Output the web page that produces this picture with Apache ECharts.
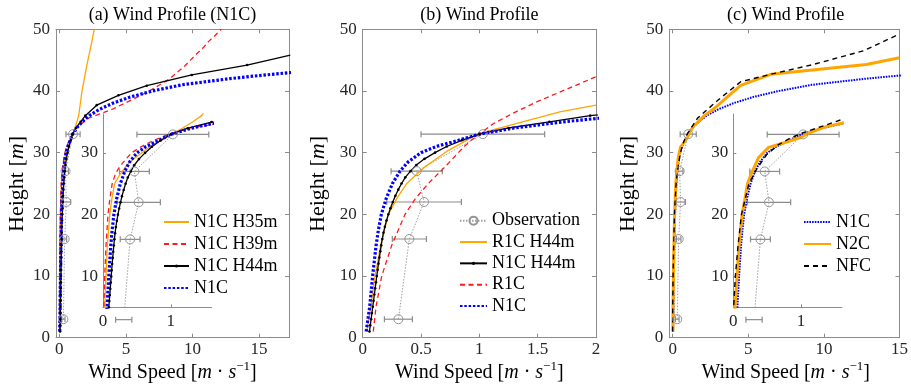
<!DOCTYPE html>
<html><head><meta charset="utf-8">
<script src="https://cdn.jsdelivr.net/npm/echarts@6/dist/echarts.min.js"></script>
<style>html,body{margin:0;padding:0;background:#fff}#c{width:911px;height:388px}</style>
</head><body><div id="c"></div>
<script>
// ---------------- data ----------------
const obsHeight = [3, 16, 22, 27, 33];
const obsSpeed  = [0.306, 0.40, 0.526, 0.463, 1.03];
const obsError  = [0.12, 0.146, 0.32, 0.22, 0.53];

const n1cHeight = [1, 3, 5, 8, 10, 12.5, 15, 17.5, 20, 22.5, 25, 27, 28.5, 30, 31, 32, 33, 34, 35, 36, 37, 38, 39, 40, 41, 42, 42.5, 43];
const n1cSpeed  = [0.03, 0.045, 0.06, 0.075, 0.085, 0.1, 0.115, 0.135, 0.16, 0.2, 0.255, 0.32, 0.39, 0.5, 0.63, 0.82, 1.0, 1.3, 1.72, 2.25, 3.0, 4.0, 5.3, 7.0, 9.2, 12.8, 15.0, 17.4];

const h35Height = [1, 5, 10, 15, 20, 22.5, 25, 26.5, 28, 29, 30, 31, 32, 33, 34, 35, 36, 38, 40, 42, 44, 46, 48, 50];
const h35Speed  = [0.02, 0.025, 0.044, 0.064, 0.1, 0.13, 0.17, 0.25, 0.35, 0.45, 0.57, 0.69, 0.84, 1.0, 1.17, 1.32, 1.45, 1.58, 1.7, 1.88, 2.05, 2.25, 2.44, 2.62];

const h39Height = [1, 5, 10, 15, 20, 22.5, 25, 26.5, 27.5, 28.5, 30, 31, 32, 33, 34, 35, 35.6, 36, 37, 38, 39, 40, 41, 42, 43, 44, 45, 46, 47, 48, 49, 50];
const h39Speed  = [0.01, 0.012, 0.025, 0.044, 0.074, 0.1, 0.135, 0.18, 0.23, 0.3, 0.42, 0.56, 0.74, 0.97, 1.26, 1.85, 2.2, 2.68, 3.94, 4.9, 5.85, 6.75, 7.55, 8.3, 8.85, 9.4, 9.85, 10.3, 10.8, 11.2, 11.7, 12.15];

const h44Height = [1, 2, 3, 4, 5, 6, 7, 8, 9, 10, 11, 12, 13, 14, 15, 16, 17, 18, 19, 20, 21, 22, 23, 24, 25, 26, 27, 28, 29, 30, 31, 32, 33, 34, 35, 36, 37.7, 39.3, 40.85, 42.6, 44.2, 45.8];
const h44Speed  = [0.058, 0.065, 0.072, 0.079, 0.086, 0.093, 0.1, 0.107, 0.114, 0.121, 0.128, 0.135, 0.143, 0.151, 0.159, 0.168, 0.178, 0.19, 0.204, 0.22, 0.238, 0.258, 0.28, 0.305, 0.333, 0.365, 0.41, 0.46, 0.53, 0.62, 0.72, 0.85, 1.0, 1.25, 1.6, 1.95, 2.81, 4.44, 6.57, 9.95, 14.1, 17.35];

const r44Height = [1, 5, 10, 15, 20, 22.5, 25, 27.7, 30.2, 32, 33, 35.2, 36.6, 37.7];
const r44Speed  = [0.034, 0.069, 0.106, 0.154, 0.22, 0.29, 0.377, 0.534, 0.72, 0.89, 0.98, 1.41, 1.69, 2.0];

const r1cHeight = [1, 5, 10, 15, 20, 22.5, 25, 27.7, 30, 31, 32, 33, 34.7, 36.5, 38.3, 40.3, 42.3];
const r1cSpeed  = [0.091, 0.114, 0.163, 0.249, 0.363, 0.45, 0.563, 0.706, 0.82, 0.87, 0.93, 1.0, 1.12, 1.3, 1.5, 1.75, 2.0];

const n2cHeight = [1, 5, 10, 15, 20, 25, 26.5, 29.2, 30.9, 31.6, 32.5, 33.2, 34.3, 34.8, 36, 37.2, 39, 40.9, 42.7, 44.3, 45.4];
const n2cSpeed  = [0.02, 0.025, 0.054, 0.084, 0.13, 0.21, 0.26, 0.37, 0.52, 0.74, 0.99, 1.11, 1.38, 1.6, 2.1, 2.77, 3.6, 4.5, 6.48, 12.8, 15.0];

const nfcHeight = [1, 5, 10, 15, 20, 25, 27.3, 29.7, 31.3, 32.4, 33.2, 34.5, 35.6, 38.5, 41.5, 42.7, 44.3, 46.5, 49.0, 49.2];
const nfcSpeed  = [0.0, 0.005, 0.03, 0.07, 0.12, 0.23, 0.34, 0.49, 0.66, 0.84, 1.01, 1.36, 1.65, 2.99, 4.5, 6.48, 9.3, 12.6, 14.8, 15.0];

const mainYTicks = [0, 10, 20, 30, 40, 50];
const xTicksA = [0, 5, 10, 15];
const xTicksB = [0, 0.5, 1, 1.5, 2];
const xTicksC = [0, 5, 10, 15];
const insetXTicks = [0, 1];
const insetYTicks = [10, 20, 30];

const panelTitles = ['(a) Wind Profile (N1C)', '(b) Wind Profile', '(c) Wind Profile'];
const legendA = ['N1C H35m', 'N1C H39m', 'N1C H44m', 'N1C'];
const legendB = ['R1C H44m', 'N1C H44m', 'R1C', 'N1C'];
const legendC = ['N1C', 'N2C', 'NFC'];

// ---------------- layout / style ----------------
const FONT = "'Liberation Serif','Times New Roman',serif";
const AX = '#8c8c8c';
const TXT = '#262626';
const grids = [
  {left: 56, top: 29.3, width: 233, height: 308.4},
  {left: 362.7, top: 29.3, width: 233.3, height: 308.4},
  {left: 669.3, top: 29.3, width: 232.7, height: 308.4},
  {left: 103, top: 114, width: 108.5, height: 193.3},
  {left: 733.3, top: 114, width: 108.5, height: 193.3}
];
const xAxes = [], yAxes = [];
function addAxes(gi, xmin, xmax, xt, ymin, ymax, yt, inset) {
  const lbl = {fontFamily: FONT, fontSize: 17, color: TXT};
  const base = (pos, min, max, ticks, show, margin) => ({
    type: 'value', gridIndex: gi, min: min, max: max, position: pos,
    axisLine: {show: true, onZero: false, lineStyle: {color: AX, width: 1}},
    axisTick: {show: true, inside: true, length: inset ? 3 : 4, customValues: ticks, lineStyle: {color: AX}},
    axisLabel: Object.assign({show: show, customValues: ticks, margin: margin}, lbl),
    splitLine: {show: false}, silent: true
  });
  xAxes.push(base('bottom', xmin, xmax, xt, true, inset ? 6 : 3));
  yAxes.push(base('left', ymin, ymax, yt, true, inset ? 5 : 6));
  if (!inset) {
    xAxes.push(base('top', xmin, xmax, xt, false, 3));
    yAxes.push(base('right', ymin, ymax, yt, false, 3));
  }
}
addAxes(0, -0.25, 17.25, xTicksA, 0, 50, mainYTicks, false);
addAxes(1, 0, 2, xTicksB, 0, 50, mainYTicks, false);
addAxes(2, -0.22, 15, xTicksC, 0, 50, mainYTicks, false);
addAxes(3, 0, 1.6, insetXTicks, 5, 36.3, insetYTicks, true);
addAxes(4, 0, 1.6, insetXTicks, 5, 36.3, insetYTicks, true);
const AXI = [0, 2, 4, 6, 7];

function pts(h, x) { return h.map((v, i) => [x[i], v]); }
const series = [];
function addLine(name, h, x, gi, ls, extra) {
  series.push(Object.assign({
    type: 'line', name: name, xAxisIndex: AXI[gi], yAxisIndex: AXI[gi],
    data: pts(h, x), symbol: 'none', showSymbol: false, clip: true,
    lineStyle: ls, itemStyle: {color: ls.color}, silent: true, animation: false,
    emphasis: {disabled: true}
  }, extra || {}));
}
function addObs(gi) {
  series.push({
    type: 'line', name: 'Observation', xAxisIndex: AXI[gi], yAxisIndex: AXI[gi],
    data: pts(obsHeight, obsSpeed), symbol: 'circle', symbolSize: 9, showSymbol: true, clip: true,
    itemStyle: {color: 'rgba(0,0,0,0)', borderColor: '#959595', borderWidth: 1},
    lineStyle: {color: '#a0a0a0', width: 1, type: [1.5, 1.5]},
    silent: true, animation: false, emphasis: {disabled: true}
  });
  series.push({
    type: 'custom', name: 'Observation', xAxisIndex: AXI[gi], yAxisIndex: AXI[gi],
    data: obsSpeed.map((v, i) => [v, obsHeight[i], obsError[i]]),
    encode: {x: 0, y: 1}, silent: true, animation: false,
    renderItem: function (params, api) {
      const y = api.value(1), c = api.value(0), e = api.value(2);
      const p1 = api.coord([c - e, y]), p2 = api.coord([c + e, y]);
      const st = {stroke: '#8c8c8c', lineWidth: 1.2};
      const cap = 3;
      return {type: 'group', children: [
        {type: 'line', shape: {x1: p1[0], y1: p1[1], x2: p2[0], y2: p2[1]}, style: st},
        {type: 'line', shape: {x1: p1[0], y1: p1[1] - cap, x2: p1[0], y2: p1[1] + cap}, style: st},
        {type: 'line', shape: {x1: p2[0], y1: p2[1] - cap, x2: p2[0], y2: p2[1] + cap}, style: st}
      ]};
    }
  });
}
const ORANGE = '#FFA500', RED = '#FF1a1a', BLUE = '#0000FF';
const sOrange = {color: ORANGE, width: 1.3};
const sRed = {color: RED, width: 1.3, type: [5, 3.5]};
const sBlack = {color: '#000', width: 1.3};
const sBlue = {color: BLUE, width: 3.2, type: [2.5, 1.8]};
const sBlueThin = {color: BLUE, width: 2, type: [1.6, 1.1]};
const sN2C = {color: ORANGE, width: 3};
const sNFC = {color: '#000', width: 1.4, type: [5, 4]};
const blackMarks = {symbol: 'circle', symbolSize: 2.6, showSymbol: true, itemStyle: {color: '#000'}};

// panel (a) and inset
[0, 3].forEach(gi => {
  addObs(gi);
  addLine('N1C H35m', h35Height, h35Speed, gi, sOrange);
  addLine('N1C H39m', h39Height, h39Speed, gi, sRed);
  addLine('N1C H44m', h44Height, h44Speed, gi, sBlack, blackMarks);
  addLine('N1C', n1cHeight, n1cSpeed, gi, sBlue);
});
// panel (b)
addObs(1);
addLine('R1C H44m', r44Height, r44Speed, 1, sOrange);
addLine('N1C H44m', h44Height, h44Speed, 1, sBlack, blackMarks);
addLine('R1C', r1cHeight, r1cSpeed, 1, sRed);
addLine('N1C', n1cHeight, n1cSpeed, 1, sBlue);
// panel (c) and inset
[2, 4].forEach(gi => {
  addObs(gi);
  addLine('N1C', n1cHeight, n1cSpeed, gi, sBlueThin);
  addLine('N2C', n2cHeight, n2cSpeed, gi, sN2C);
  addLine('NFC', nfcHeight, nfcSpeed, gi, sNFC);
});

const hide = {opacity: 0};
function legendItems(names, overrides) {
  return names.map(n => {
    const o = {name: n};
    if (n !== 'N1C H44m' && n !== 'Observation') o.itemStyle = hide;
    if (overrides && overrides[n]) o.lineStyle = overrides[n];
    return o;
  });
}
const legText = {fontFamily: FONT, fontSize: 18, color: '#000', lineHeight: 22};
const legends = [
  {left: 163, top: 211, orient: 'vertical', padding: 0, itemGap: 0, itemWidth: 25, itemHeight: 4,
   textStyle: legText, data: legendItems(legendA), selectedMode: false},
  {left: 459, top: 210, orient: 'vertical', padding: 0, itemGap: 0, itemWidth: 27, itemHeight: 10,
   textStyle: Object.assign({}, legText, {lineHeight: 21.3}), data: legendItems(['Observation']), selectedMode: false},
  {left: 459, top: 231.4, orient: 'vertical', padding: 0, itemGap: 0, itemWidth: 27, itemHeight: 4,
   textStyle: Object.assign({}, legText, {lineHeight: 21.3}), data: legendItems(legendB), selectedMode: false},
  {left: 803, top: 211, orient: 'vertical', padding: 0, itemGap: 0, itemWidth: 27, itemHeight: 4,
   textStyle: legText, data: legendItems(legendC, {'N1C': {width: 2, type: [1.6, 1.1], color: BLUE}}), selectedMode: false}
];

function richFor(size) {
  const b = {fontFamily: FONT, fontSize: size, lineHeight: size + 6, verticalAlign: 'middle', fill: '#000', color: '#000'};
  return {
    n: b,
    i: Object.assign({}, b, {fontStyle: 'italic'}),
    s: Object.assign({}, b, {fontSize: 13, lineHeight: 13, verticalAlign: 'top'})
  };
}
const centersX = [172.5, 479.3, 785.7];
const yLabelX = [17, 318.3, 628.3];
const graphic = [];
centersX.forEach((cx, k) => {
  graphic.push({type: 'text', x: cx, y: 15, silent: true,
    style: {text: panelTitles[k], font: '18px ' + FONT, fill: '#000', align: 'center', verticalAlign: 'middle', textAlign: 'center', textVerticalAlign: 'middle'}});
  graphic.push({type: 'text', x: cx, y: 373, silent: true,
    style: {text: '{n|Wind Speed [}{i|m}{n| · }{i|s}{s|−1}{n|]}', rich: richFor(20), align: 'center', verticalAlign: 'middle'}});
  graphic.push({type: 'text', x: yLabelX[k], y: 184, rotation: Math.PI / 2, silent: true,
    style: {text: '{n|Height [}{i|m}{n|]}', rich: richFor(22), align: 'center', verticalAlign: 'middle'}});
});

const chart = echarts.init(document.getElementById('c'), null, {renderer: 'canvas', width: 911, height: 388});
chart.setOption({
  animation: false,
  backgroundColor: '#fff',
  grid: grids,
  xAxis: xAxes,
  yAxis: yAxes,
  legend: legends,
  series: series,
  graphic: graphic
});
</script></body></html>
